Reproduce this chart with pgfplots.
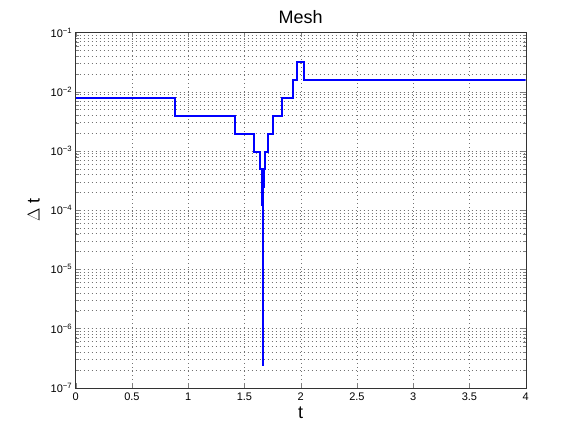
\documentclass[border=0pt]{standalone}
\usepackage{fontspec}
\setmainfont{Liberation Sans}
\usepackage{pgfplots}
\pgfplotsset{compat=1.18}
\begin{document}
\begin{tikzpicture}
\path[use as bounding box] (-75.7pt,-49.3pt) rectangle (505.3pt,387.7pt);
\begin{axis}[
  at={(0pt,0pt)}, anchor=south west,
  scale only axis, width=450pt, height=355.2pt,
  xmin=0, xmax=4, ymode=log, ymin=1e-7, ymax=1e-1,
  xtick={0,0.5,1,1.5,2,2.5,3,3.5,4},
  xticklabels={0,0.5,1,1.5,2,2.5,3,3.5,4},
  ytick={1e-7,1e-6,1e-5,1e-4,1e-3,1e-2,1e-1},
  yticklabels={10\textsuperscript{−7},10\textsuperscript{−6},10\textsuperscript{−5},10\textsuperscript{−4},10\textsuperscript{−3},10\textsuperscript{−2},10\textsuperscript{−1}},
  tick align=inside, tick pos=both,
  major tick length=5pt, minor tick length=3pt,
  grid=both,
  major grid style={black!55, line width=0.4pt, dash pattern=on 0.6pt off 3.4pt},
  minor grid style={black!55, line width=0.4pt, dash pattern=on 0.6pt off 3.4pt},
  minor x tick num=0,
  tick label style={font=\fontsize{11}{13}\selectfont},
  xticklabel style={yshift=-2pt},
  title={Mesh}, title style={font=\fontsize{18}{20}\selectfont, yshift=-1pt},
  xlabel={t}, ylabel={$\Delta$ t},
  label style={font=\fontsize{18}{20}\selectfont},
  xlabel style={yshift=1pt},
  ylabel style={yshift=4pt},
  axis line style={black!80},
]
\addplot[const plot, blue, line width=2pt] coordinates {
(0, 0.0078125)
(0.883, 0.00390625)
(1.417, 0.001953125)
(1.585, 0.0009765625)
(1.638, 0.00048828125)
(1.656, 2.44140625e-4)
(1.6595, 1.220703125e-4)
(1.6607, 6.103515625e-5)
(1.6612, 3.0517578125e-5)
(1.6614, 1.52587890625e-5)
(1.6615, 7.62939453125e-6)
(1.6616, 3.814697265625e-6)
(1.6617, 1.9073486328125e-6)
(1.6618, 9.5367431640625e-7)
(1.6619, 4.76837158203125e-7)
(1.6620, 2.384185791015625e-7)
(1.6621, 4.76837158203125e-7)
(1.6622, 9.5367431640625e-7)
(1.6623, 1.9073486328125e-6)
(1.6624, 3.814697265625e-6)
(1.6625, 7.62939453125e-6)
(1.6627, 1.52587890625e-5)
(1.6630, 3.0517578125e-5)
(1.6636, 6.103515625e-5)
(1.6648, 1.220703125e-4)
(1.6672, 2.44140625e-4)
(1.6695, 4.8828125e-4)
(1.683, 0.0009765625)
(1.705, 0.001953125)
(1.751, 0.00390625)
(1.831, 0.0078125)
(1.934, 0.015625)
(1.967, 0.03125)
(2.032, 0.015625)
(4, 0.015625)
};
\end{axis}
\end{tikzpicture}
\end{document}
